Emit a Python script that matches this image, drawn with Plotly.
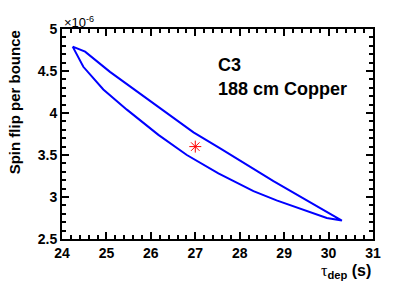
import plotly.graph_objects as go

# Contour (closed curve): tau_dep (s) and spin flip per bounce (units of 1e-6)
tau_upper = [24.24, 24.52, 25.08, 25.83, 26.43, 26.96, 27.56, 28.01, 28.46, 28.76, 29.51, 30.30]
flip_upper = [4.79, 4.73, 4.49, 4.20, 3.97, 3.77, 3.58, 3.43, 3.29, 3.19, 2.96, 2.72]
tau_lower = [29.96, 29.51, 28.83, 28.31, 27.52, 26.81, 26.17, 25.46, 24.93, 24.48, 24.24]
flip_lower = [2.75, 2.83, 2.96, 3.07, 3.28, 3.50, 3.74, 4.04, 4.28, 4.55, 4.79]

best_tau = [27.0]
best_flip = [3.60]

x_ticks = [24, 25, 26, 27, 28, 29, 30, 31]
y_ticks = [2.5, 3.0, 3.5, 4.0, 4.5, 5.0]
y_ticklabels = ["2.5", "3", "3.5", "4", "4.5", "5"]

fig = go.Figure()
fig.add_trace(go.Scatter(
    x=tau_upper + tau_lower, y=flip_upper + flip_lower,
    mode="lines", line=dict(color="#0000ff", width=2), showlegend=False,
    hoverinfo="skip"))
fig.add_trace(go.Scatter(
    x=best_tau, y=best_flip, mode="markers",
    marker=dict(symbol="asterisk-open", size=10, color="red",
                line=dict(color="red", width=1)), showlegend=False,
    hoverinfo="skip"))

font_main = "Liberation Sans, Arial, Helvetica, sans-serif"
axis_common = dict(
    showline=True, linecolor="black", linewidth=2, mirror="allticks",
    ticks="inside", ticklen=7, tickwidth=1.5, tickcolor="black",
    showgrid=False, zeroline=False,
    tickfont=dict(family=font_main, size=14, color="black", weight="bold"),
)
fig.update_layout(
    width=415, height=282,
    margin=dict(l=62, r=42, t=29, b=43),
    paper_bgcolor="white", plot_bgcolor="white",
    xaxis=dict(range=[24, 31], tickvals=x_ticks,
               minor=dict(dtick=0.2, ticklen=4, tickwidth=1.5, ticks="inside", tickcolor="black"),
               **axis_common),
    yaxis=dict(range=[2.5, 5.0], tickvals=y_ticks, ticktext=y_ticklabels,
               minor=dict(dtick=0.1, ticklen=4, tickwidth=1.5, ticks="inside", tickcolor="black"),
               **axis_common),
)

fig.add_annotation(
    xref="paper", yref="paper", x=0, y=1, xanchor="left", yanchor="bottom",
    text="×10<sup>-6</sup>", showarrow=False, yshift=-3,
    font=dict(family=font_main, size=13, color="black"))
fig.add_annotation(
    xref="paper", yref="paper", x=-0.15, y=1.005, xanchor="center", yanchor="top",
    text="Spin flip per bounce", textangle=-90, showarrow=False,
    font=dict(family=font_main, size=15, color="black", weight="bold"))
fig.add_annotation(
    xref="paper", yref="paper", x=1, y=-0.1, xanchor="right", yanchor="top",
    text="<span style='font-family:Liberation Serif, Times New Roman, serif;font-weight:normal'>τ</span><sub>dep</sub> (s)",
    showarrow=False,
    font=dict(family=font_main, size=16, color="black", weight="bold"))
fig.add_annotation(
    xref="paper", yref="paper", x=0.495, y=0.83, xanchor="left", yanchor="middle",
    text="C3", showarrow=False,
    font=dict(family=font_main, size=18, color="black", weight="bold"))
fig.add_annotation(
    xref="paper", yref="paper", x=0.495, y=0.715, xanchor="left", yanchor="middle",
    text="188 cm Copper", showarrow=False,
    font=dict(family=font_main, size=18, color="black", weight="bold"))

fig.write_html("out.html", config={"displayModeBar": False},
               post_script="document.body.style.margin='0';")
